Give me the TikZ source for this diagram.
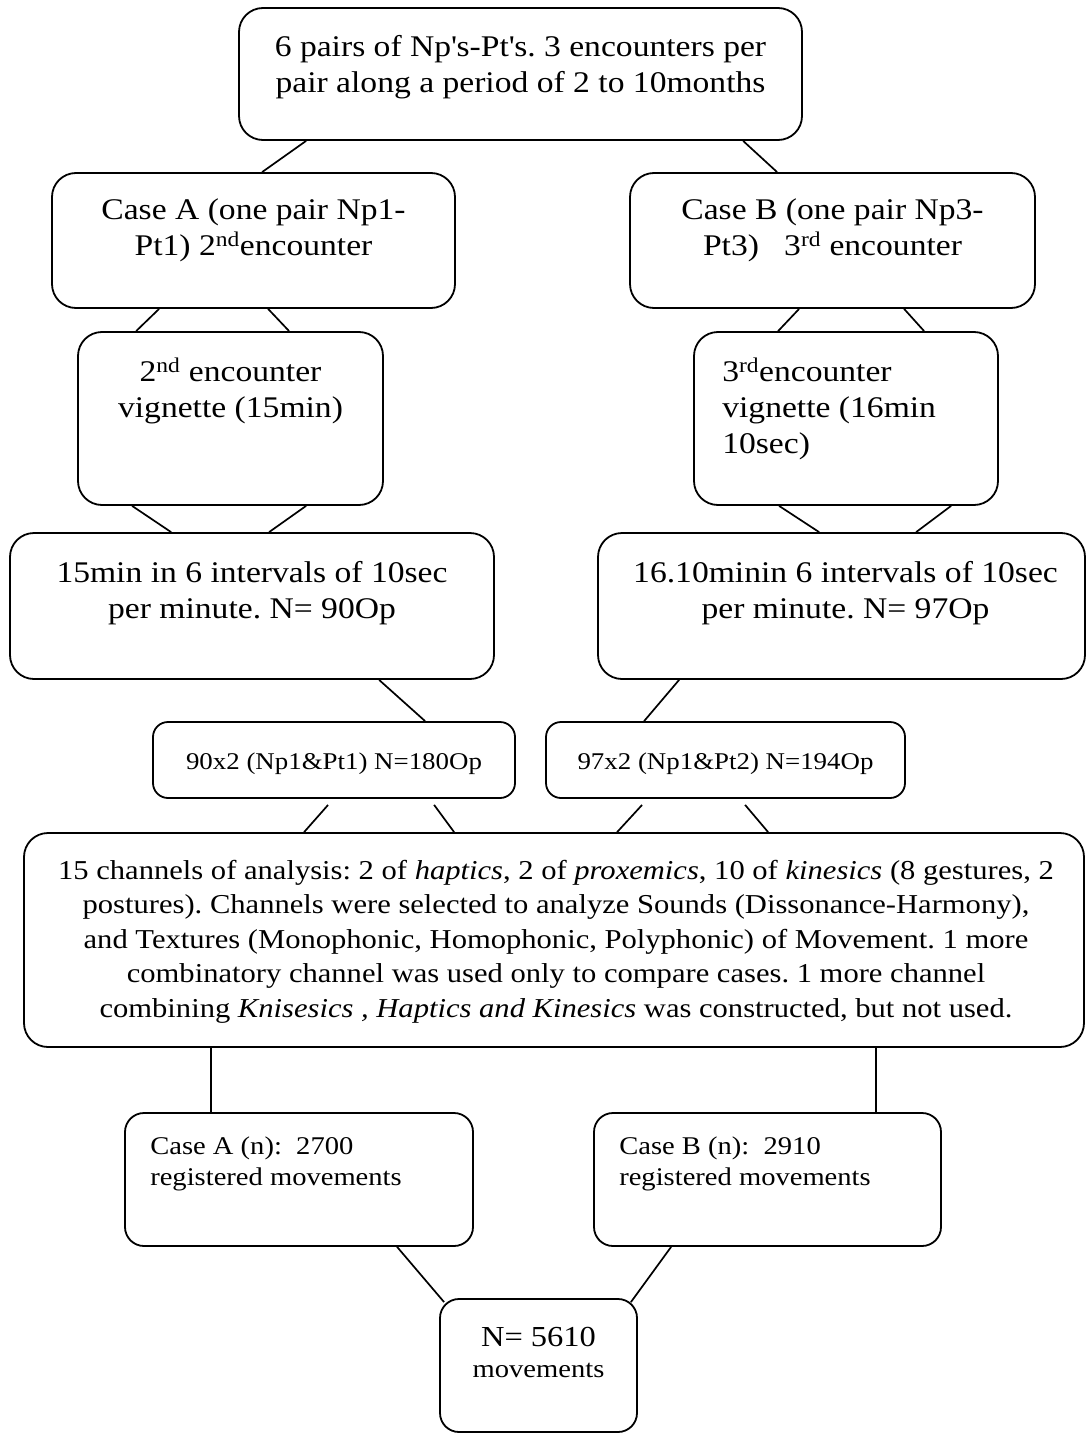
\documentclass[tikz,border=0pt]{standalone}
\usepackage{fontspec}
\setmainfont[FakeStretch=1.12]{Liberation Serif}
\usetikzlibrary{calc}
\newcommand{\aps}{\textquotesingle}
\frenchspacing
\begin{document}
\begin{tikzpicture}[x=1pt,y=-1pt,
  box/.style={draw, line width=1.8pt, rounded corners=24pt, inner sep=0pt},
  smallbox/.style={box, rounded corners=15pt},
  midbox/.style={box, rounded corners=19pt},
  txt/.style={inner sep=0pt, align=center, font=\fontsize{30}{36}\selectfont},
  txtl/.style={inner sep=0pt, align=left, font=\fontsize{30}{36}\selectfont},
  smalltxt/.style={inner sep=0pt, align=center, font=\fontsize{24}{30}\selectfont},
  casetxt/.style={inner sep=0pt, align=left, font=\fontsize{25.5}{31}\selectfont},
  conn/.style={line width=1.7pt}]
\useasboundingbox (0,0) rectangle (1086,1434);

% boxes
\node[box, minimum width=563pt, minimum height=132pt] (top) at (520.5,74) {};
\node[box, minimum width=403pt, minimum height=135pt] (caseA) at (253.5,240.5) {};
\node[box, minimum width=405pt, minimum height=135pt] (caseB) at (832.5,240.5) {};
\node[box, minimum width=305pt, minimum height=173pt] (vigA) at (230.5,418.5) {};
\node[box, minimum width=304pt, minimum height=173pt] (vigB) at (846,418.5) {};
\node[box, minimum width=484pt, minimum height=146pt] (minA) at (252,606) {};
\node[box, minimum width=487pt, minimum height=146pt] (minB) at (841.5,606) {};
\node[smallbox, minimum width=362pt, minimum height=76pt] (pA) at (334,760) {};
\node[smallbox, minimum width=359pt, minimum height=76pt] (pB) at (725.5,760) {};
\node[box, minimum width=1060pt, minimum height=214pt] (big) at (554,940) {};
\node[midbox, minimum width=348pt, minimum height=133pt] (cA) at (299,1179.5) {};
\node[midbox, minimum width=347pt, minimum height=133pt] (cB) at (767.5,1179.5) {};
\node[midbox, minimum width=197pt, minimum height=133pt] (N) at (538.5,1365.5) {};

% texts (anchor base = baseline of the last line)
\node[txt, anchor=base] (topT) at ($(top.north)+(0,85)$)
  {6 pairs of Np\aps s-Pt\aps s. 3 encounters per\\pair along a period of 2 to 10months};
\node[txt, anchor=base] (caseAT) at ($(caseA.north)+(0,83)$)
  {Case A (one pair Np1-\\Pt1) 2\textsuperscript{nd}encounter};
\node[txt, anchor=base] (caseBT) at ($(caseB.north)+(0,83)$)
  {Case B (one pair Np3-\\Pt3)\ \ \ 3\textsuperscript{rd} encounter};
\node[txt, anchor=base] (vigAT) at ($(vigA.north)+(0,86)$)
  {2\textsuperscript{nd} encounter\\vignette (15min)};
\node[txtl, anchor=base west] (vigBT) at ($(vigB.north west)+(29,122)$)
  {3\textsuperscript{rd}encounter\\vignette (16min\\10sec)};
\node[txt, anchor=base] (minAT) at ($(minA.north)+(0,86)$)
  {15min in 6 intervals of 10sec\\per minute. N= 90Op};
\node[txt, anchor=base] (minBT) at ($(minB.north)+(4,86)$)
  {16.10minin 6 intervals of 10sec\\per minute. N= 97Op};
\node[smalltxt, anchor=base] (pAT) at ($(pA.north)+(0,48)$)
  {90x2 (Np1\&Pt1) N=180Op};
\node[smalltxt, anchor=base] (pBT) at ($(pB.north)+(0,48)$)
  {97x2 (Np1\&Pt2) N=194Op};
\node[txt, anchor=base, font=\fontsize{27.3}{34.5}\selectfont] (bigT) at ($(big.north)+(2,185)$)
  {15 channels of analysis: 2 of \textit{haptics}, 2 of \textit{proxemics}, 10 of \textit{kinesics} (8 gestures, 2\\
   postures). Channels were selected to analyze Sounds (Dissonance-Harmony),\\
   and Textures (Monophonic, Homophonic, Polyphonic) of Movement. 1 more\\
   combinatory channel was used only to compare cases. 1 more channel\\
   combining \textit{Knisesics , Haptics and Kinesics} was constructed, but not used.};
\node[casetxt, anchor=base west] (cAT) at ($(cA.north west)+(26,73)$)
  {Case A (n):\ \ 2700\\registered movements};
\node[casetxt, anchor=base west] (cBT) at ($(cB.north west)+(26,73)$)
  {Case B (n):\ \ 2910\\registered movements};
\node[inner sep=0pt, align=center, font=\fontsize{25.5}{31}\selectfont, anchor=base] (NT) at ($(N.north)+(0,79)$)
  {{\fontsize{29}{31}\selectfont N= 5610}\\movements};

% connectors
\draw[conn] ($(top.south west)+(68,0)$) -- ($(caseA.north west)+(211,0)$);
\draw[conn] ($(top.south west)+(505,0)$) -- ($(caseB.north west)+(148,0)$);
\draw[conn] ($(caseA.south west)+(108,0)$) -- ($(vigA.north west)+(59,0)$);
\draw[conn] ($(caseA.south west)+(217,0)$) -- ($(vigA.north west)+(212,0)$);
\draw[conn] ($(caseB.south west)+(170,0)$) -- ($(vigB.north west)+(85,0)$);
\draw[conn] ($(caseB.south west)+(275,0)$) -- ($(vigB.north west)+(231,0)$);
\draw[conn] ($(vigA.south west)+(55,0)$) -- ($(minA.north west)+(162,0)$);
\draw[conn] ($(vigA.south west)+(229,0)$) -- ($(minA.north west)+(260,0)$);
\draw[conn] ($(vigB.south west)+(86,0)$) -- ($(minB.north west)+(222,0)$);
\draw[conn] ($(vigB.south west)+(258,0)$) -- ($(minB.north west)+(319,0)$);
\draw[conn] ($(minA.south west)+(370,0)$) -- ($(pA.north west)+(273,0)$);
\draw[conn] ($(minB.south west)+(82,0)$) -- ($(pB.north west)+(99,0)$);
\draw[conn] ($(pA.south west)+(176,6)$) -- ($(big.north west)+(281,0)$);
\draw[conn] ($(pA.south west)+(282,6)$) -- ($(big.north west)+(431,0)$);
\draw[conn] ($(pB.south west)+(97,6)$) -- ($(big.north west)+(594,0)$);
\draw[conn] ($(pB.south west)+(200,6)$) -- ($(big.north west)+(745,0)$);
\draw[conn] ($(cA.north west)+(87,0)$) coordinate (ca1) -- (ca1 |- big.south);
\draw[conn] ($(cB.north west)+(283,0)$) coordinate (cb1) -- (cb1 |- big.south);
\draw[conn] ($(cA.south west)+(273,0)$) -- ($(N.north west)+(5,4)$);
\draw[conn] ($(cB.south west)+(78,0)$) -- ($(N.north east)+(-7,4)$);
\end{tikzpicture}
\end{document}
